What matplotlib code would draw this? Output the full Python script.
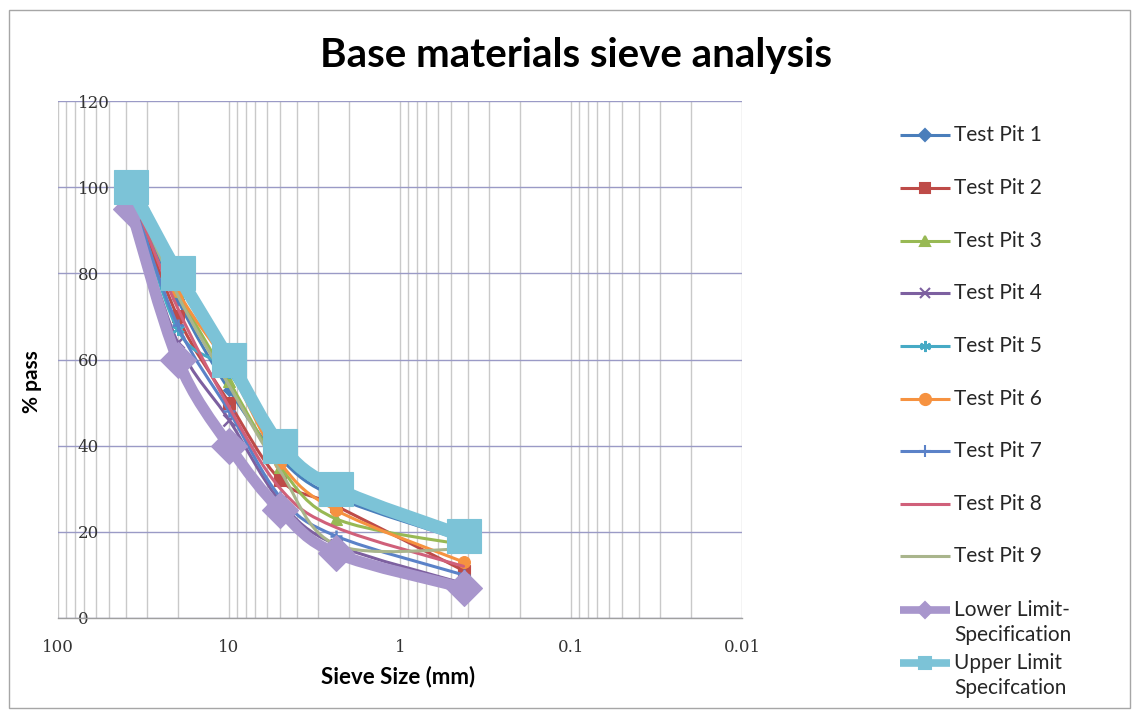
import numpy as np
import matplotlib
matplotlib.use("Agg")
import matplotlib.pyplot as plt
from matplotlib.path import Path
from matplotlib.patches import PathPatch, Rectangle
from matplotlib.lines import Line2D
from matplotlib.ticker import LogLocator, NullFormatter

# ---------------- data ----------------
sieve_sizes = [37.5, 20, 10, 5, 2.36, 0.425]

test_pit_1 = [100, 74, 53, 37, 28, 18]
test_pit_2 = [99, 70, 50, 32, 26, 11]
test_pit_3 = [100, 76, 55, 35, 23, 17]
test_pit_4 = [97, 64, 46, 27, 17, 8]
test_pit_5 = [100, 67, 57, 38, 29, 19]
test_pit_6 = [100, 76, 58, 36, 25, 13]
test_pit_7 = [98, 68, 48, 28, 19, 10]
test_pit_8 = [99, 72, 49, 30, 21, 12]
test_pit_9 = [100, 75, 54, 34, 17, 16]
lower_limit = [95, 60, 40, 25, 15, 7]
upper_limit = [100, 80, 60, 40, 30, 19]

series_labels = ["Test Pit 1", "Test Pit 2", "Test Pit 3", "Test Pit 4", "Test Pit 5",
                 "Test Pit 6", "Test Pit 7", "Test Pit 8", "Test Pit 9",
                 "Lower Limit-\nSpecification", "Upper Limit\nSpecifcation"]
series_values = [test_pit_1, test_pit_2, test_pit_3, test_pit_4, test_pit_5,
                 test_pit_6, test_pit_7, test_pit_8, test_pit_9,
                 lower_limit, upper_limit]

x_ticks = [100, 10, 1, 0.1, 0.01]
x_tick_labels = ["100", "10", "1", "0.1", "0.01"]
y_ticks = [0, 20, 40, 60, 80, 100, 120]

title = "Base materials sieve analysis"
x_label = "Sieve Size (mm)"
y_label = "% pass"

# ---------------- styles ----------------
colors = ["#4A7EBB", "#BE4B48", "#98B954", "#7D60A0", "#46AAC5",
          "#F69240", "#5B82C8", "#D0607A", "#A9B58C", "#A896CC", "#7CC3D7"]
markers = ["D", "s", "^", "x", (6, 2, 0), "o", "+", None, None, "D", "s"]
msizes = [6, 8.5, 8, 8, 9, 8.5, 9, 0, 0, 18, 24]
lwidths = [2.2, 2.2, 2.2, 2.2, 2.2, 2.2, 2.2, 2.2, 2.2, 8.0, 9.5]

W, H = 1133, 710
fig = plt.figure(figsize=(W / 100, H / 100), dpi=100)
fig.patch.set_facecolor("white")


def fx(px):
    return px / W


def fy(py):
    return 1 - py / H


ax_left, ax_right, ax_top, ax_bottom = 58, 742, 101, 618
ax = fig.add_axes([fx(ax_left), fy(ax_bottom), fx(ax_right - ax_left), (ax_bottom - ax_top) / H])
ax.set_facecolor("white")

ax.set_xscale("log")
ax.set_xlim(100, 0.01)
ax.set_ylim(0, 120)

ax.xaxis.set_major_locator(LogLocator(base=10))
ax.xaxis.set_minor_locator(LogLocator(base=10, subs=np.arange(2, 10)))
ax.xaxis.set_minor_formatter(NullFormatter())
ax.set_xticks(x_ticks)
ax.set_xticklabels(x_tick_labels)
ax.set_yticks(y_ticks)

ax.grid(True, axis="x", which="both", color="#C9C9C9", lw=1.0, zorder=0)
ax.grid(True, axis="y", which="major", color="#9A9AC6", lw=1.0, zorder=0)
ax.set_axisbelow(True)

for s in ["top", "right", "left"]:
    ax.spines[s].set_visible(False)
ax.spines["bottom"].set_color("#A0A0A0")
ax.spines["bottom"].set_linewidth(1.0)

ax.tick_params(axis="both", which="both", length=0)
ax.tick_params(axis="x", pad=15, labelsize=12, labelcolor="#333333")
ax.tick_params(axis="y", pad=-14, labelsize=12, labelcolor="#333333")
for lab in ax.get_yticklabels():
    lab.set_horizontalalignment("left")
    lab.set_fontfamily("DejaVu Serif")
for lab in ax.get_xticklabels():
    lab.set_fontfamily("DejaVu Serif")


def smooth_path(xs, ys):
    """Excel-style smoothed line: cubic Bezier through the data points (log-x space)."""
    u = np.log10(np.asarray(xs, dtype=float))
    pts = np.column_stack([u, np.asarray(ys, dtype=float)])
    n = len(pts)
    verts = [pts[0]]
    codes = [Path.MOVETO]
    for i in range(n - 1):
        p0 = pts[max(i - 1, 0)]
        p1 = pts[i]
        p2 = pts[i + 1]
        p3 = pts[min(i + 2, n - 1)]
        c1 = p1 + (p2 - p0) / 6.0
        c2 = p2 - (p3 - p1) / 6.0
        verts += [c1, c2, p2]
        codes += [Path.CURVE4] * 3
    verts = np.array(verts)
    verts[:, 0] = 10 ** verts[:, 0]
    return Path(verts, codes)


for i, vals in enumerate(series_values):
    z = 3 + i * 0.1
    patch = PathPatch(smooth_path(sieve_sizes, vals), fill=False, edgecolor=colors[i],
                      lw=lwidths[i], capstyle="round", joinstyle="round", zorder=z)
    ax.add_patch(patch)
    if markers[i] is not None:
        mk = markers[i]
        line_like = mk in ("x", "+") or isinstance(mk, tuple)
        ax.plot(sieve_sizes, vals, linestyle="none", marker=mk, markersize=msizes[i],
                markerfacecolor=colors[i], markeredgecolor=colors[i],
                markeredgewidth=1.8 if line_like else 0.8, zorder=z + 0.05, clip_on=False)

# ---------------- texts ----------------
fig.text(fx(576), fy(55), title, ha="center", va="center", fontsize=29,
         fontweight="bold", family="Lato", color="black")
fig.text(fx(398), fy(677), x_label, ha="center", va="center",
         fontsize=16, fontweight="bold", family="Lato")
fig.text(fx(32), fy(382), y_label, rotation=90, ha="center", va="center",
         fontsize=15, fontweight="bold", family="Lato")

# ---------------- legend (manual) ----------------
leg_y = [135, 188, 241, 293, 346, 399, 451, 504, 556, 610, 663]
leg_lw = [2.2] * 9 + [5.5, 5.5]
leg_ms = [6, 7, 7, 7, 8, 8, 8, 0, 0, 8, 9]
for i, lab in enumerate(series_labels):
    y = fy(leg_y[i])
    ln = Line2D([fx(900), fx(950)], [y, y], transform=fig.transFigure,
                color=colors[i], lw=leg_lw[i], solid_capstyle="butt")
    fig.add_artist(ln)
    if markers[i] is not None:
        mk = markers[i]
        mkr = Line2D([fx(925)], [y], transform=fig.transFigure, linestyle="none",
                     marker=mk, markersize=leg_ms[i], markerfacecolor=colors[i],
                     markeredgecolor=colors[i], markeredgewidth=1.5)
        fig.add_artist(mkr)
    if "\n" in lab:
        fig.text(fx(954), fy(leg_y[i] + 12.5), lab, ha="left", va="center",
                 fontsize=15, family="Lato", color="#262626", linespacing=1.28)
    else:
        fig.text(fx(954), y, lab, ha="left", va="center", fontsize=15,
                 family="Lato", color="#262626")

# figure border
fig.add_artist(Rectangle((fx(9), fy(708)), fx(1121), 698 / H, transform=fig.transFigure,
                         fill=False, edgecolor="#A6A6A6", lw=1.0))

fig.savefig("out.png", dpi=100)
